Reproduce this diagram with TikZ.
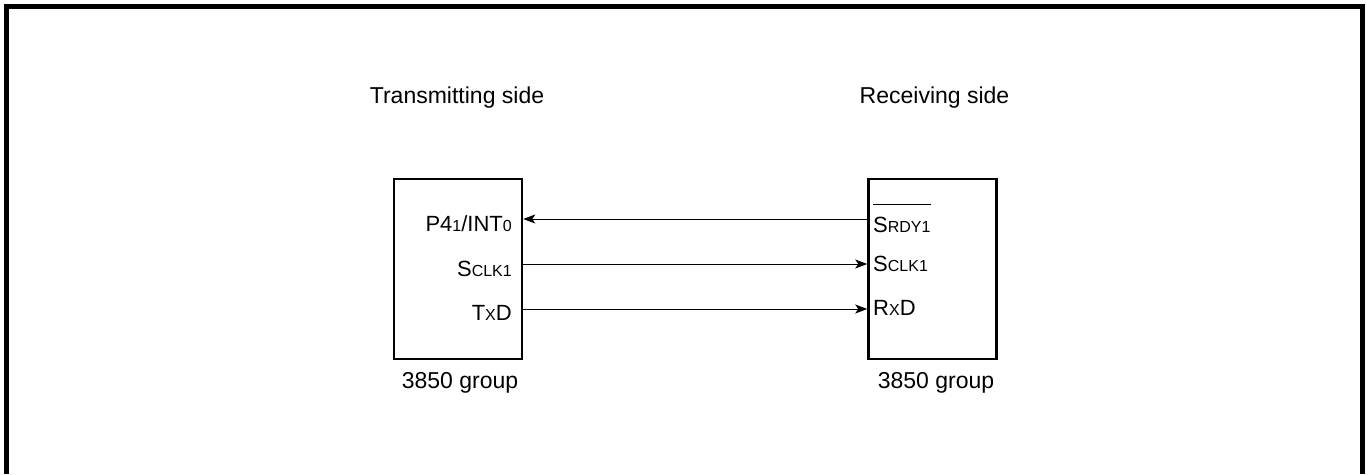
\documentclass[tikz,border=0pt]{standalone}
\usepackage{fontspec}
\setmainfont{Liberation Sans}
\usetikzlibrary{arrows.meta}
\newcommand\smtxt[1]{{\fontsize{16}{18}\selectfont #1}}
\begin{document}
\begin{tikzpicture}[x=1pt,y=-1pt,
  head/.style={font=\fontsize{23}{27}\selectfont, inner sep=0pt},
  lbl/.style={font=\fontsize{22}{26}\selectfont, inner sep=0pt},
  chip/.style={draw, line width=2.5pt, minimum width=128pt, minimum height=180pt, inner sep=0pt},
  sig/.style={line width=1pt, -{Stealth[length=12pt,width=9pt,inset=3pt]}}]
\useasboundingbox (0,0) rectangle (1367,474);
\draw[line width=5pt] (6.5,474) -- (6.5,6.5) -- (1362.5,6.5) -- (1362.5,474);
% boxes
\node[chip] (tx) at (458,269) {};
\node[chip] (rx) at (932.5,269) {};
% headings
\node[head, anchor=base] (th) at (457,103) {Transmitting side};
\node[head, anchor=base] (rh) at (934.5,103) {Receiving side};
\node[head, anchor=base] (tg) at (460,388) {3850 group};
\node[head, anchor=base] (rg) at (936,388) {3850 group};
% left labels
\node[lbl, anchor=base east] (p41) at (512,231) {P4\smtxt{1}/INT\smtxt{0}};
\node[lbl, anchor=base east] (sclkL) at (512,276) {S\smtxt{CLK1}};
\node[lbl, anchor=base east] (txd) at (512,320) {T\smtxt{X}D};
% right labels
\node[lbl, anchor=base west] (srdy) at (873,232) {S\smtxt{RDY1}};
\node[lbl, anchor=base west] (sclkR) at (873,271) {S\smtxt{CLK1}};
\node[lbl, anchor=base west] (rxd) at (873,315) {R\smtxt{X}D};
\draw[line width=1pt] ([yshift=28pt]srdy.base west) -- ([yshift=28pt]srdy.base east);
% signal lines
\coordinate (l1) at (0,219);
\coordinate (l2) at (0,264);
\coordinate (l3) at (0,309);
\draw[sig] (rx.west |- l1) -- (tx.east |- l1);
\draw[sig] (tx.east |- l2) -- (rx.west |- l2);
\draw[sig] (tx.east |- l3) -- (rx.west |- l3);
\end{tikzpicture}
\end{document}
